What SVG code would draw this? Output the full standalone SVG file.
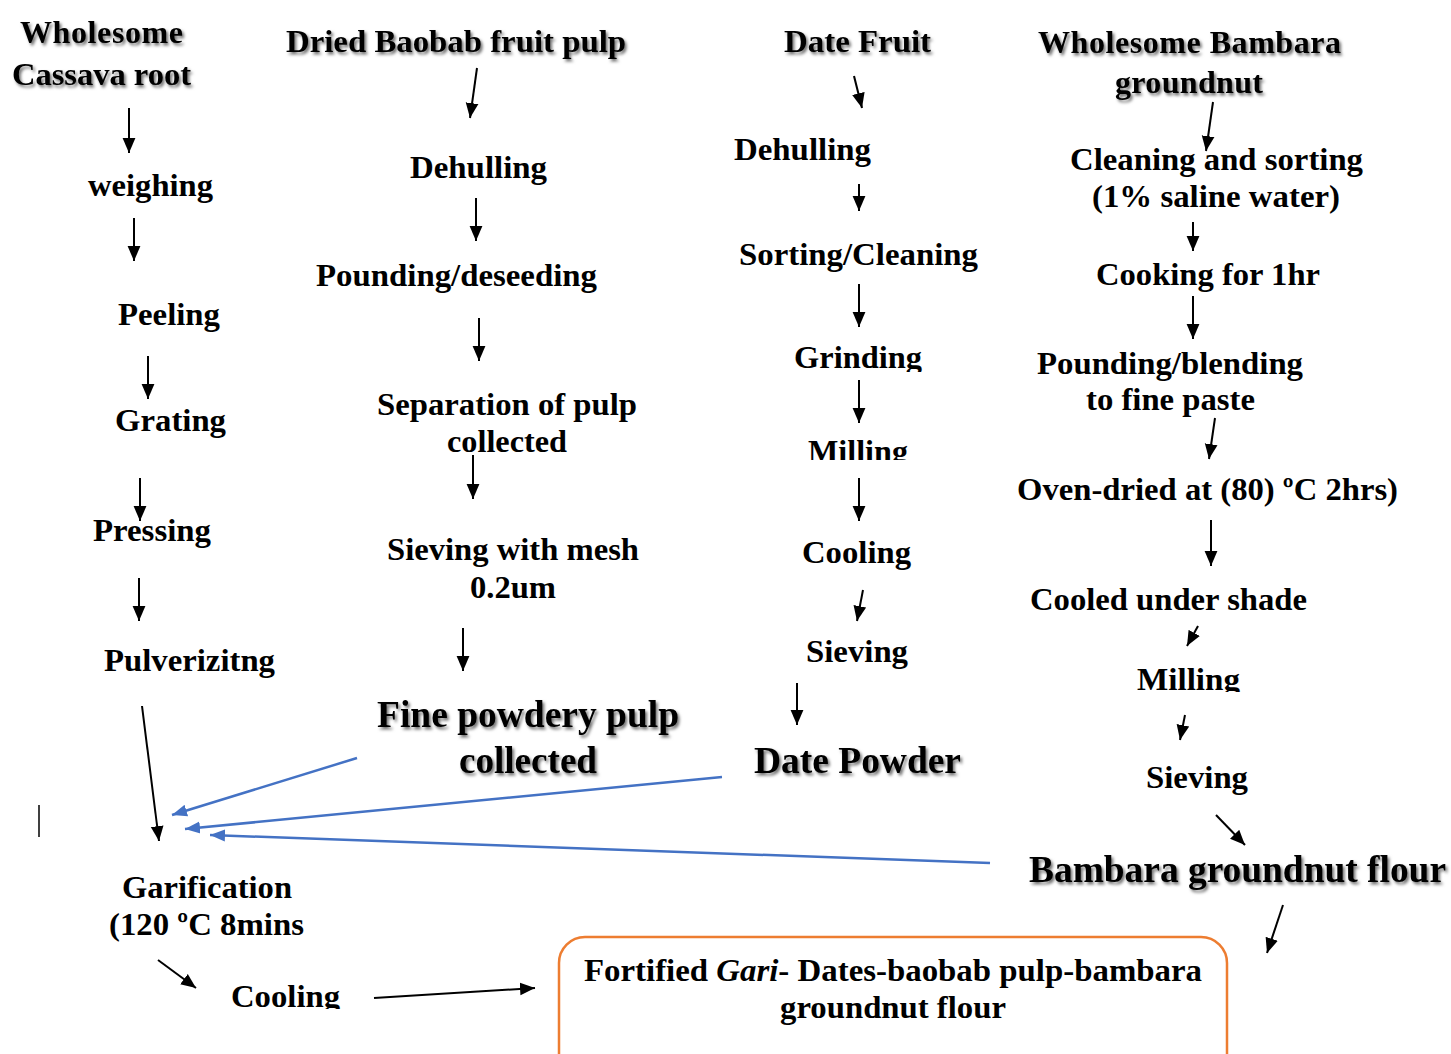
<svg xmlns="http://www.w3.org/2000/svg" width="1451" height="1054" viewBox="0 0 1451 1054">
<style>
text{font-family:"Liberation Serif","Times New Roman",serif;font-weight:bold;fill:#000;font-size:32px}
.big{font-size:38px}
.sh{filter:url(#shadow)}
.ar{stroke:#000;stroke-width:2;fill:none;marker-end:url(#ah)}
.bl{stroke:#4472C4;stroke-width:2.5;fill:none;marker-end:url(#bh)}
</style>
<defs>
<filter id="shadow" x="-10%" y="-30%" width="130%" height="170%">
<feDropShadow dx="2" dy="2.5" stdDeviation="1.6" flood-color="#000" flood-opacity="0.55"/>
</filter>
<marker id="ah" markerUnits="userSpaceOnUse" markerWidth="16" markerHeight="14" viewBox="0 0 15 12" refX="14" refY="6" orient="auto">
<path d="M0,0 L14,6 L0,12 Z" fill="#000"/>
</marker>
<marker id="bh" markerUnits="userSpaceOnUse" markerWidth="16" markerHeight="14" viewBox="0 0 16 12" refX="15" refY="6" orient="auto">
<path d="M0,0 L15,6 L0,12 Z" fill="#4472C4"/>
</marker>
<clipPath id="cGrind"><rect x="780" y="330" width="160" height="42"/></clipPath>
<clipPath id="cMill1"><rect x="790" y="430" width="140" height="30"/></clipPath>
<clipPath id="cMill2"><rect x="1120" y="660" width="140" height="32"/></clipPath>
<clipPath id="cCool1"><rect x="220" y="975" width="140" height="34"/></clipPath>
</defs>

<g id="cassava">
<g id="n-wholesome-cassava" class="sh">
<text x="20" y="43" textLength="163" lengthAdjust="spacing">Wholesome</text>
<text x="12" y="85" textLength="179" lengthAdjust="spacingAndGlyphs">Cassava root</text>
</g>
<g id="n-weighing"><text x="88" y="196" textLength="125" lengthAdjust="spacingAndGlyphs">weighing</text></g>
<g id="n-peeling"><text x="118" y="325" textLength="102" lengthAdjust="spacingAndGlyphs">Peeling</text></g>
<g id="n-grating"><text x="115" y="431" textLength="111" lengthAdjust="spacingAndGlyphs">Grating</text></g>
<g id="n-pressing"><text x="93" y="541" textLength="118" lengthAdjust="spacingAndGlyphs">Pressing</text></g>
<g id="n-pulverizitng"><text x="104" y="671" textLength="171" lengthAdjust="spacingAndGlyphs">Pulverizitng</text></g>
<g id="n-garification">
<text x="122" y="898" textLength="170" lengthAdjust="spacingAndGlyphs">Garification</text>
<text x="109" y="935" textLength="195" lengthAdjust="spacingAndGlyphs">(120 ºC 8mins</text>
</g>
<g id="n-cooling1" clip-path="url(#cCool1)"><text x="231" y="1007" textLength="109" lengthAdjust="spacingAndGlyphs">Cooling</text></g>
</g>

<g id="baobab">
<g id="n-baobab" class="sh"><text x="286" y="52" textLength="340" lengthAdjust="spacingAndGlyphs">Dried Baobab fruit pulp</text></g>
<g id="n-dehulling1"><text x="410" y="178" textLength="137" lengthAdjust="spacingAndGlyphs">Dehulling</text></g>
<g id="n-pounding1"><text x="316" y="286" textLength="281" lengthAdjust="spacingAndGlyphs">Pounding/deseeding</text></g>
<g id="n-separation">
<text x="377" y="415" textLength="260" lengthAdjust="spacingAndGlyphs">Separation of pulp</text>
<text x="447" y="452" textLength="120" lengthAdjust="spacingAndGlyphs">collected</text>
</g>
<g id="n-sieving1">
<text x="387" y="560" textLength="252" lengthAdjust="spacingAndGlyphs">Sieving with mesh</text>
<text x="470" y="598" textLength="86" lengthAdjust="spacingAndGlyphs">0.2um</text>
</g>
<g id="n-fine" class="sh">
<text class="big" x="377" y="727" textLength="302" lengthAdjust="spacingAndGlyphs">Fine powdery pulp</text>
<text class="big" x="459" y="773" textLength="138" lengthAdjust="spacingAndGlyphs">collected</text>
</g>
</g>

<g id="dates">
<g id="n-datefruit" class="sh"><text x="784" y="52" textLength="147" lengthAdjust="spacingAndGlyphs">Date Fruit</text></g>
<g id="n-dehulling2"><text x="734" y="160" textLength="137" lengthAdjust="spacingAndGlyphs">Dehulling</text></g>
<g id="n-sorting"><text x="739" y="265" textLength="239" lengthAdjust="spacingAndGlyphs">Sorting/Cleaning</text></g>
<g id="n-grinding" clip-path="url(#cGrind)"><text x="794" y="368" textLength="128" lengthAdjust="spacingAndGlyphs">Grinding</text></g>
<g id="n-milling1" clip-path="url(#cMill1)"><text x="808" y="462" textLength="100" lengthAdjust="spacingAndGlyphs">Milling</text></g>
<g id="n-cooling2"><text x="802" y="563" textLength="109" lengthAdjust="spacingAndGlyphs">Cooling</text></g>
<g id="n-sieving2"><text x="806" y="662" textLength="102" lengthAdjust="spacingAndGlyphs">Sieving</text></g>
<g id="n-datepowder" class="sh"><text class="big" x="754" y="773" textLength="207" lengthAdjust="spacingAndGlyphs">Date Powder</text></g>
</g>

<g id="bambara">
<g id="n-wholesome-bambara" class="sh">
<text x="1038" y="53" textLength="303" lengthAdjust="spacing">Wholesome Bambara</text>
<text x="1115" y="93" textLength="148" lengthAdjust="spacing">groundnut</text>
</g>
<g id="n-cleaning">
<text x="1070" y="170" textLength="293" lengthAdjust="spacingAndGlyphs">Cleaning and sorting</text>
<text x="1092" y="207" textLength="248" lengthAdjust="spacingAndGlyphs">(1% saline water)</text>
</g>
<g id="n-cooking"><text x="1096" y="285" textLength="224" lengthAdjust="spacingAndGlyphs">Cooking for 1hr</text></g>
<g id="n-pounding2">
<text x="1037" y="374" textLength="266" lengthAdjust="spacingAndGlyphs">Pounding/blending</text>
<text x="1086" y="410" textLength="169" lengthAdjust="spacingAndGlyphs">to fine paste</text>
</g>
<g id="n-oven"><text x="1017" y="500" textLength="381" lengthAdjust="spacingAndGlyphs">Oven-dried at (80) ºC 2hrs)</text></g>
<g id="n-cooled"><text x="1030" y="610" textLength="277" lengthAdjust="spacingAndGlyphs">Cooled under shade</text></g>
<g id="n-milling2" clip-path="url(#cMill2)"><text x="1137" y="690" textLength="103" lengthAdjust="spacingAndGlyphs">Milling</text></g>
<g id="n-sieving3"><text x="1146" y="788" textLength="102" lengthAdjust="spacingAndGlyphs">Sieving</text></g>
<g id="n-bambaraflour" class="sh"><text class="big" x="1029" y="882" textLength="417" lengthAdjust="spacingAndGlyphs">Bambara groundnut flour</text></g>
</g>

<g id="n-product">
<rect x="559" y="937" width="668" height="150" rx="26" ry="26" fill="none" stroke="#ED7D31" stroke-width="2.5"/>
<text x="584" y="981" textLength="618" lengthAdjust="spacingAndGlyphs">Fortified <tspan font-style="italic">Gari</tspan>- Dates-baobab pulp-bambara</text>
<text x="780" y="1018" textLength="226" lengthAdjust="spacingAndGlyphs">groundnut flour</text>
</g>

<g id="connectors">
<line class="ar" x1="129" y1="108" x2="129" y2="153"/>
<line class="ar" x1="134" y1="218" x2="134" y2="261"/>
<line class="ar" x1="148" y1="356" x2="148" y2="399"/>
<line class="ar" x1="140" y1="478" x2="140" y2="521"/>
<line class="ar" x1="139" y1="578" x2="139" y2="621"/>
<line class="ar" x1="142" y1="706" x2="159" y2="841"/>
<line class="ar" x1="158" y1="960" x2="196" y2="988"/>
<line class="ar" x1="374" y1="998" x2="535" y2="988"/>

<line class="ar" x1="477" y1="68" x2="470" y2="118"/>
<line class="ar" x1="476" y1="198" x2="476" y2="241"/>
<line class="ar" x1="479" y1="318" x2="479" y2="361"/>
<line class="ar" x1="473" y1="455" x2="473" y2="499"/>
<line class="ar" x1="463" y1="628" x2="463" y2="671"/>

<line class="ar" x1="854" y1="76" x2="862" y2="108"/>
<line class="ar" x1="859" y1="184" x2="859" y2="211"/>
<line class="ar" x1="859" y1="284" x2="859" y2="327"/>
<line class="ar" x1="859" y1="380" x2="859" y2="423"/>
<line class="ar" x1="859" y1="478" x2="859" y2="521"/>
<line class="ar" x1="863" y1="590" x2="857" y2="621"/>
<line class="ar" x1="797" y1="683" x2="797" y2="725"/>

<line class="ar" x1="1213" y1="102" x2="1206" y2="151"/>
<line class="ar" x1="1193" y1="222" x2="1193" y2="251"/>
<line class="ar" x1="1193" y1="296" x2="1193" y2="339"/>
<line class="ar" x1="1215" y1="418" x2="1209" y2="459"/>
<line class="ar" x1="1211" y1="520" x2="1211" y2="566"/>
<line class="ar" x1="1198" y1="626" x2="1187" y2="646"/>
<line class="ar" x1="1185" y1="715" x2="1180" y2="740"/>
<line class="ar" x1="1216" y1="815" x2="1245" y2="845"/>
<line class="ar" x1="1283" y1="905" x2="1267" y2="953"/>

<line class="bl" x1="357" y1="758" x2="172" y2="815"/>
<line class="bl" x1="722" y1="777" x2="185" y2="829"/>
<line class="bl" x1="990" y1="863" x2="210" y2="835"/>

<line x1="39" y1="805" x2="39" y2="837" stroke="#000" stroke-width="1.5"/>
</g>
</svg>
